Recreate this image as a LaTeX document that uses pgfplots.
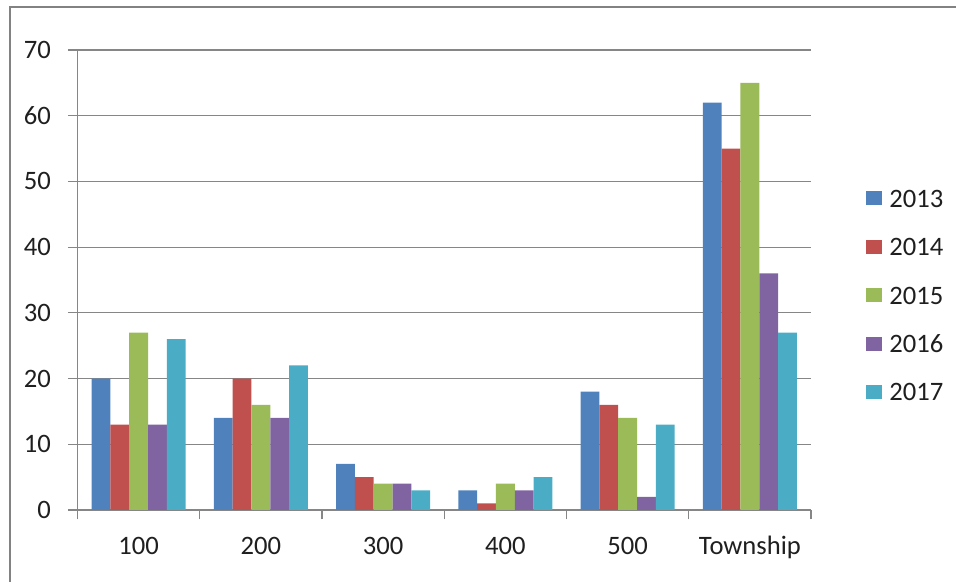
\documentclass[border=0pt]{standalone}
\usepackage{fontspec}
\setmainfont{Carlito}
\usepackage{pgfplots}
\pgfplotsset{compat=1.18}

\definecolor{c13}{HTML}{4F81BD}
\definecolor{c14}{HTML}{C0504D}
\definecolor{c15}{HTML}{9BBB59}
\definecolor{c16}{HTML}{8064A2}
\definecolor{c17}{HTML}{4BACC6}
\definecolor{linegray}{HTML}{868686}
\definecolor{framegray}{HTML}{828282}

\pgfplotsset{
  xlbar/.style={fill=#1, draw=none,
    legend image code/.code={\fill[#1] (0pt,-3.5pt) rectangle (8pt,3.5pt);}},
}

\begin{document}
\begin{tikzpicture}
\begin{axis}[
    name=ax,
    width=366.75pt, height=230pt,
    scale only axis,
    ybar, bar width=0.154,
    xmin=-0.5, xmax=5.5,
    ymin=0, ymax=70,
    ytick={0,10,...,70},
    xtick={-0.5,0.5,1.5,2.5,3.5,4.5,5.5},
    xticklabels={{},{},{},{},{},{},{}},
    extra x ticks={0,1,2,3,4,5},
    extra x tick labels={100,200,300,400,500,Township},
    extra x tick style={major tick length=0pt},
    axis x line=bottom, axis y line=left,
    axis line style={-, linegray, line width=0.6pt},
    tick style={linegray, line width=0.6pt},
    tick align=outside,
    major tick length=4.75pt,
    ymajorgrids=true,
    grid style={linegray, line width=0.6pt},
    tick label style={font=\fontsize{13.3}{16}\selectfont, text=black!88},
    /pgf/number format/assume math mode=true,
    xticklabel style={anchor=base, yshift=-22pt},
    yticklabel style={xshift=-5pt},
    legend style={draw=none, fill=none, at={(1.075,0.467)}, anchor=west,
      inner sep=0pt, row sep=15.2pt,
      font=\fontsize{13.3}{16}\selectfont, text=black!88,
      nodes={inner sep=0pt, text height=9pt, text depth=0pt}},
    legend cell align=left,
    clip=false,
]
\addplot[xlbar=c13, bar shift=-0.308] coordinates {(0,20) (1,14) (2,7) (3,3) (4,18) (5,62)};
\addplot[xlbar=c14, bar shift=-0.154] coordinates {(0,13) (1,20) (2,5) (3,1) (4,16) (5,55)};
\addplot[xlbar=c15, bar shift=0] coordinates {(0,27) (1,16) (2,4) (3,4) (4,14) (5,65)};
\addplot[xlbar=c16, bar shift=0.154] coordinates {(0,13) (1,14) (2,4) (3,3) (4,2) (5,36)};
\addplot[xlbar=c17, bar shift=0.308] coordinates {(0,26) (1,22) (2,3) (3,5) (4,13) (5,27)};
\legend{\hspace{3.5pt}2013,\hspace{3.5pt}2014,\hspace{3.5pt}2015,\hspace{3.5pt}2016,\hspace{3.5pt}2017}
\end{axis}
\draw[framegray, line width=1pt]
  ([xshift=-33.75pt, yshift=-60pt]ax.south west)
  -- ([xshift=-33.75pt, yshift=21.5pt]ax.north west)
  -- ([xshift=90pt, yshift=21.5pt]ax.north east);
\pgfresetboundingbox
\path[use as bounding box]
  ([xshift=-38.75pt, yshift=-36pt]ax.south west)
  rectangle ([xshift=72.5pt, yshift=25pt]ax.north east);
\end{tikzpicture}
\end{document}
